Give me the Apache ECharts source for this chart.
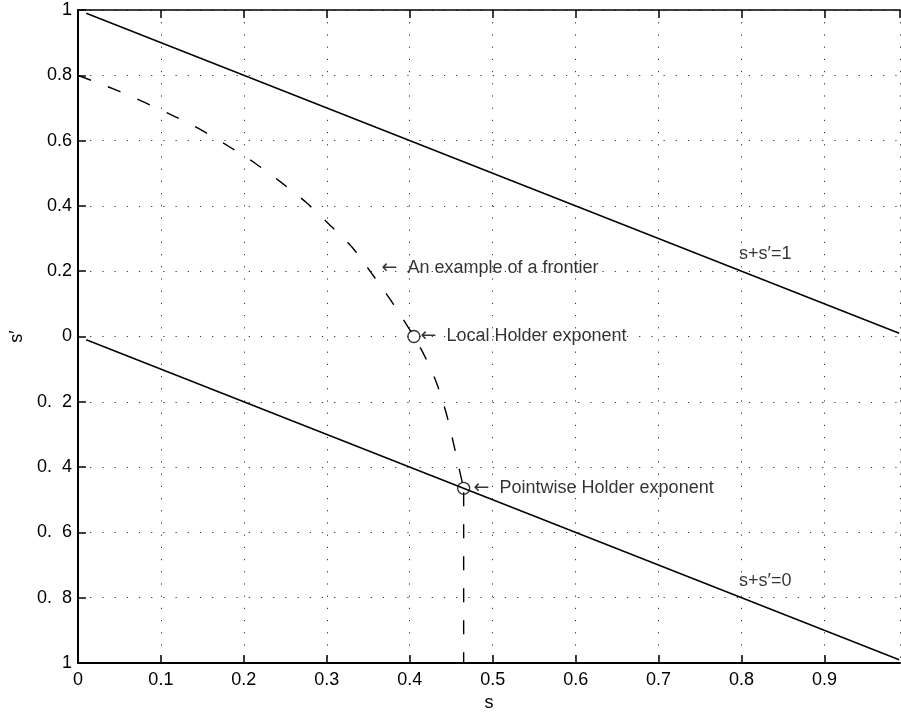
<!DOCTYPE html>
<html>
<head>
<meta charset="utf-8">
<script src="https://cdn.jsdelivr.net/npm/echarts@6/dist/echarts.min.js"></script>
<style>
  html, body { margin: 0; padding: 0; background: #fff; }
  #main { width: 901px; height: 717px; }
</style>
</head>
<body>
<div id="main"></div>
<script>
// tick labels as printed on the figure (minus signs lost in the original)
var yTickValues = [-1, -0.8, -0.6, -0.4, -0.2, 0, 0.2, 0.4, 0.6, 0.8, 1];
var yTickLabels = ["1", "0.  8", "0.  6", "0.  4", "0.  2", "0", "0.2", "0.4", "0.6", "0.8", "1"];

// s + s' = 1 and s + s' = 0
var upperLine = [[0.01, 0.99], [0.99, 0.01]];
var lowerLine = [[0.01, -0.01], [0.99, -0.99]];

// dashed frontier curve
var frontierS = [0, 0.045, 0.081, 0.115, 0.149, 0.182, 0.214, 0.245, 0.275, 0.303, 0.33, 0.355, 0.38, 0.405, 0.418, 0.432, 0.444, 0.453, 0.46, 0.465];
var frontierT = [0.8, 0.756, 0.716, 0.676, 0.632, 0.582, 0.53, 0.472, 0.411, 0.343, 0.275, 0.19, 0.1, 0, -0.06, -0.14, -0.235, -0.33, -0.41, -0.465];
var dropLine = [[0.465, -0.465], [0.465, -1]];

// marked exponents
var markedPoints = [[0.405, 0], [0.465, -0.465]];

// annotations
var noteX = [0.366, 0.413, 0.477, 0.797, 0.797];
var noteY = [0.21, 0, -0.465, 0.254, -0.75];
var noteArrow = [true, true, true, false, false];
var noteText = ["An example of a frontier", "Local Holder exponent", "Pointwise Holder exponent", "s+s\u2032=1", "s+s\u2032=0"];

var frontier = frontierS.map(function (s, i) { return [s, frontierT[i]]; });
var notes = noteX.map(function (x, i) {
  return { value: [x, noteY[i]], text: noteText[i], arrow: noteArrow[i] };
});

var FONT = "'Liberation Sans', Arial, sans-serif";
var gridDots = { show: true, lineStyle: { color: "#333", width: 1, type: [1.2, 11] } };

var chart = echarts.init(document.getElementById("main"));
var option = {
  animation: false,
  backgroundColor: "#fff",
  grid: { left: 74, right: 1, top: 10, bottom: 50, containLabel: false },
  xAxis: [
    {
      type: "value",
      min: 0,
      max: 0.991,
      interval: 0.1,
      name: "s",
      nameLocation: "middle",
      nameGap: 31,
      nameTextStyle: { fontSize: 18, color: "#000", fontFamily: FONT },
      axisLine: { show: true, onZero: false, lineStyle: { color: "#000", width: 2 } },
      axisTick: { show: true, inside: true, length: 8, lineStyle: { color: "#000", width: 1.5 } },
      axisLabel: {
        margin: 8,
        fontSize: 18,
        color: "#000",
        fontFamily: FONT,
        showMaxLabel: false,
        formatter: function (v) { return Math.round(v * 10) / 10 + ""; }
      },
      splitLine: gridDots
    },
    {
      type: "value",
      position: "top",
      min: 0,
      max: 0.991,
      interval: 0.1,
      axisLine: { show: true, onZero: false, lineStyle: { color: "#000", width: 1.5 } },
      axisTick: { show: true, inside: true, length: 8, lineStyle: { color: "#000", width: 1.5 } },
      axisLabel: { show: false },
      splitLine: { show: false }
    }
  ],
  yAxis: {
    type: "value",
    min: -1,
    max: 1,
    interval: 0.2,
    name: "s\u2032",
    nameLocation: "middle",
    nameGap: 50,
    nameTextStyle: { fontSize: 18, color: "#000", fontFamily: FONT },
    axisLine: { show: true, onZero: false, lineStyle: { color: "#000", width: 2 } },
    axisTick: { show: true, inside: true, length: 8, lineStyle: { color: "#000", width: 1.5 } },
    axisLabel: {
      margin: 6,
      fontSize: 18,
      color: "#000",
      fontFamily: FONT,
      formatter: function (v) {
        for (var i = 0; i < yTickValues.length; i++) {
          if (Math.abs(yTickValues[i] - v) < 1e-6) return yTickLabels[i];
        }
        return "";
      }
    },
    splitLine: gridDots
  },
  series: [
    {
      name: "s+s'=1",
      type: "line",
      data: upperLine,
      symbol: "none",
      lineStyle: { color: "#000", width: 1.4 }
    },
    {
      name: "s+s'=0",
      type: "line",
      data: lowerLine,
      symbol: "none",
      lineStyle: { color: "#000", width: 1.4 }
    },
    {
      name: "frontier",
      type: "line",
      data: frontier,
      symbol: "none",
      smooth: 0.3,
      lineStyle: { color: "#000", width: 1.4, type: [14, 18] }
    },
    {
      name: "drop",
      type: "line",
      data: dropLine,
      symbol: "none",
      lineStyle: { color: "#000", width: 1.4, type: [14, 18], dashOffset: -4 }
    },
    {
      name: "exponents",
      type: "scatter",
      data: markedPoints,
      symbol: "circle",
      symbolSize: 12,
      itemStyle: { color: "rgba(0,0,0,0)", borderColor: "#000", borderWidth: 1.3 },
      z: 5
    },
    {
      name: "notes",
      type: "scatter",
      data: notes,
      symbolSize: 0,
      label: {
        show: true,
        position: "right",
        distance: 0,
        fontSize: 18,
        color: "#000",
        fontFamily: FONT,
        formatter: function (p) {
          return p.data.arrow ? "{arr|\u2190}" + p.data.text : p.data.text;
        },
        rich: {
          arr: { fontFamily: "'DejaVu Sans'", fontSize: 19, color: "#000", padding: [0, 10, 0, 0] }
        }
      },
      z: 6
    }
  ]
};
chart.setOption(option);
</script>
</body>
</html>
